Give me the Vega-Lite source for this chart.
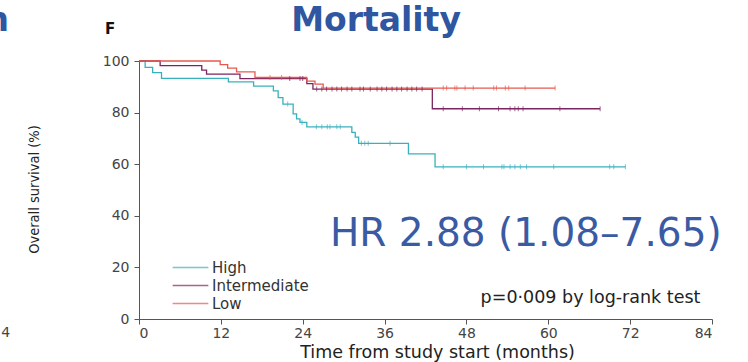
{
  "$schema": "https://vega.github.io/schema/vega-lite/v6.json",
  "width": 573,
  "height": 258,
  "autosize": {"type": "none"},
  "padding": {"left": 139, "top": 61, "right": 36, "bottom": 43},
  "background": "white",
  "datasets": {
    "curves": [
      {"group": "High", "t": 0, "s": 100},
      {"group": "High", "t": 0.9, "s": 97.5},
      {"group": "High", "t": 2.0, "s": 95.5},
      {"group": "High", "t": 3.3, "s": 93.3},
      {"group": "High", "t": 13.1, "s": 91.9},
      {"group": "High", "t": 16.8, "s": 90.3},
      {"group": "High", "t": 19.7, "s": 88.4},
      {"group": "High", "t": 20.4, "s": 85.8},
      {"group": "High", "t": 21.1, "s": 83.3},
      {"group": "High", "t": 22.6, "s": 79.5},
      {"group": "High", "t": 23.1, "s": 77.6},
      {"group": "High", "t": 23.6, "s": 76.2},
      {"group": "High", "t": 24.6, "s": 74.5},
      {"group": "High", "t": 31.2, "s": 72.3},
      {"group": "High", "t": 31.7, "s": 70.5},
      {"group": "High", "t": 32.2, "s": 68.1},
      {"group": "High", "t": 39.5, "s": 64.0},
      {"group": "High", "t": 43.4, "s": 59.0},
      {"group": "High", "t": 71.3, "s": 59.0},
      {"group": "Intermediate", "t": 0, "s": 100},
      {"group": "Intermediate", "t": 3.1, "s": 98.2},
      {"group": "Intermediate", "t": 9.2, "s": 96.5},
      {"group": "Intermediate", "t": 9.9, "s": 94.9},
      {"group": "Intermediate", "t": 14.8, "s": 93.2},
      {"group": "Intermediate", "t": 24.6, "s": 91.2},
      {"group": "Intermediate", "t": 25.5, "s": 89.1},
      {"group": "Intermediate", "t": 43.0, "s": 81.5},
      {"group": "Intermediate", "t": 67.6, "s": 81.5},
      {"group": "Low", "t": 0, "s": 100},
      {"group": "Low", "t": 11.9, "s": 98.6},
      {"group": "Low", "t": 13.0, "s": 97.2},
      {"group": "Low", "t": 14.3, "s": 95.8},
      {"group": "Low", "t": 17.0, "s": 93.6},
      {"group": "Low", "t": 24.6, "s": 92.2},
      {"group": "Low", "t": 25.8, "s": 91.0},
      {"group": "Low", "t": 27.0, "s": 89.5},
      {"group": "Low", "t": 61.0, "s": 89.5}
    ],
    "censored": [
      {"group": "High", "t": 21.8, "s": 83.3},
      {"group": "High", "t": 23.9, "s": 76.2},
      {"group": "High", "t": 26.0, "s": 74.5},
      {"group": "High", "t": 26.8, "s": 74.5},
      {"group": "High", "t": 27.6, "s": 74.5},
      {"group": "High", "t": 28.0, "s": 74.5},
      {"group": "High", "t": 29.0, "s": 74.5},
      {"group": "High", "t": 29.5, "s": 74.5},
      {"group": "High", "t": 32.6, "s": 68.1},
      {"group": "High", "t": 33.1, "s": 68.1},
      {"group": "High", "t": 33.6, "s": 68.1},
      {"group": "High", "t": 36.8, "s": 68.1},
      {"group": "High", "t": 44.6, "s": 59.0},
      {"group": "High", "t": 48.0, "s": 59.0},
      {"group": "High", "t": 50.5, "s": 59.0},
      {"group": "High", "t": 53.2, "s": 59.0},
      {"group": "High", "t": 53.5, "s": 59.0},
      {"group": "High", "t": 54.4, "s": 59.0},
      {"group": "High", "t": 55.1, "s": 59.0},
      {"group": "High", "t": 55.9, "s": 59.0},
      {"group": "High", "t": 56.8, "s": 59.0},
      {"group": "High", "t": 60.8, "s": 59.0},
      {"group": "High", "t": 69.0, "s": 59.0},
      {"group": "High", "t": 69.6, "s": 59.0},
      {"group": "High", "t": 71.3, "s": 59.0},
      {"group": "Intermediate", "t": 22.1, "s": 93.2},
      {"group": "Intermediate", "t": 23.6, "s": 93.2},
      {"group": "Intermediate", "t": 24.0, "s": 93.2},
      {"group": "Intermediate", "t": 26.05, "s": 89.1},
      {"group": "Intermediate", "t": 26.8, "s": 89.1},
      {"group": "Intermediate", "t": 27.5, "s": 89.1},
      {"group": "Intermediate", "t": 28.3, "s": 89.1},
      {"group": "Intermediate", "t": 29.0, "s": 89.1},
      {"group": "Intermediate", "t": 29.7, "s": 89.1},
      {"group": "Intermediate", "t": 30.5, "s": 89.1},
      {"group": "Intermediate", "t": 31.2, "s": 89.1},
      {"group": "Intermediate", "t": 32.4, "s": 89.1},
      {"group": "Intermediate", "t": 32.9, "s": 89.1},
      {"group": "Intermediate", "t": 33.9, "s": 89.1},
      {"group": "Intermediate", "t": 34.9, "s": 89.1},
      {"group": "Intermediate", "t": 35.6, "s": 89.1},
      {"group": "Intermediate", "t": 36.3, "s": 89.1},
      {"group": "Intermediate", "t": 37.1, "s": 89.1},
      {"group": "Intermediate", "t": 37.8, "s": 89.1},
      {"group": "Intermediate", "t": 38.5, "s": 89.1},
      {"group": "Intermediate", "t": 39.3, "s": 89.1},
      {"group": "Intermediate", "t": 40.0, "s": 89.1},
      {"group": "Intermediate", "t": 40.7, "s": 89.1},
      {"group": "Intermediate", "t": 41.5, "s": 89.1},
      {"group": "Intermediate", "t": 44.6, "s": 81.5},
      {"group": "Intermediate", "t": 47.4, "s": 81.5},
      {"group": "Intermediate", "t": 49.9, "s": 81.5},
      {"group": "Intermediate", "t": 52.7, "s": 81.5},
      {"group": "Intermediate", "t": 54.4, "s": 81.5},
      {"group": "Intermediate", "t": 55.1, "s": 81.5},
      {"group": "Intermediate", "t": 55.6, "s": 81.5},
      {"group": "Intermediate", "t": 56.3, "s": 81.5},
      {"group": "Intermediate", "t": 61.7, "s": 81.5},
      {"group": "Intermediate", "t": 67.6, "s": 81.5},
      {"group": "Low", "t": 19.2, "s": 93.6},
      {"group": "Low", "t": 20.9, "s": 93.6},
      {"group": "Low", "t": 44.6, "s": 89.5},
      {"group": "Low", "t": 45.1, "s": 89.5},
      {"group": "Low", "t": 46.3, "s": 89.5},
      {"group": "Low", "t": 46.6, "s": 89.5},
      {"group": "Low", "t": 47.8, "s": 89.5},
      {"group": "Low", "t": 49.0, "s": 89.5},
      {"group": "Low", "t": 52.0, "s": 89.5},
      {"group": "Low", "t": 52.4, "s": 89.5},
      {"group": "Low", "t": 53.7, "s": 89.5},
      {"group": "Low", "t": 54.2, "s": 89.5},
      {"group": "Low", "t": 56.6, "s": 89.5},
      {"group": "Low", "t": 61.0, "s": 89.5}
    ],
    "heading": [{"label": "Mortality"}],
    "notes": [{"label": "HR 2.88 (1.08–7.65)"}],
    "pvalue": [{"label": "p=0·009 by log-rank test"}],
    "panel": [{"label": "F"}],
    "leftTitle": [{"label": "n"}],
    "leftTick": [{"label": "4"}]
  },
  "layer": [
    {
      "data": {"name": "curves"},
      "mark": {"type": "line", "interpolate": "step-after", "strokeWidth": 1.3},
      "encoding": {
        "x": {
          "field": "t",
          "type": "quantitative",
          "scale": {"domain": [0, 84], "nice": false, "zero": false},
          "axis": {
            "title": "Time from study start (months)",
            "values": [0, 12, 24, 36, 48, 60, 72, 84],
            "tickSize": 5,
            "labelPadding": 2,
            "labelFont": "DejaVu Sans",
            "labelFontSize": 14,
            "titleFont": "DejaVu Sans",
            "titleFontSize": 17.5,
            "titleFontWeight": "normal",
            "titleX": 298,
            "titleY": 33,
            "titleAlign": "center",
            "titleBaseline": "middle"
          }
        },
        "y": {
          "field": "s",
          "type": "quantitative",
          "scale": {"domain": [0, 100], "nice": false},
          "axis": {
            "title": "Overall survival (%)",
            "values": [0, 20, 40, 60, 80, 100],
            "tickSize": 5,
            "labelPadding": 5,
            "labelFont": "DejaVu Sans",
            "labelFontSize": 14,
            "titleFont": "DejaVu Sans Condensed",
            "titleFontSize": 14.5,
            "titleFontWeight": "normal",
            "titleX": -98,
            "titleY": 128,
            "titleAngle": -90,
            "titleAlign": "center",
            "titleBaseline": "bottom"
          }
        },
        "color": {
          "field": "group",
          "type": "nominal",
          "scale": {
            "domain": ["High", "Intermediate", "Low"],
            "range": ["#38B1BE", "#7B2560", "#E65A4E"]
          },
          "legend": {
            "title": null,
            "orient": "none",
            "legendX": 42,
            "legendY": 197,
            "symbolType": "M-2.1,0H2.1",
            "symbolSize": 289,
            "symbolStrokeWidth": 1.5,
            "symbolFillColor": "transparent",
            "labelFont": "DejaVu Sans",
            "labelFontSize": 15,
            "labelColor": "#333",
            "labelOffset": 12,
            "rowPadding": 0
          }
        }
      }
    },
    {
      "data": {"name": "censored"},
      "mark": {"type": "tick", "orient": "vertical", "size": 5, "thickness": 1},
      "encoding": {
        "x": {"field": "t", "type": "quantitative"},
        "y": {"field": "s", "type": "quantitative"},
        "color": {"field": "group", "type": "nominal"}
      }
    },
    {
      "data": {"name": "heading"},
      "mark": {"type": "text", "align": "center", "baseline": "alphabetic", "font": "DejaVu Sans", "fontSize": 33, "fontWeight": "bold", "fill": "#2F56A0"},
      "encoding": {
        "x": {"datum": 34.75, "type": "quantitative"},
        "y": {"datum": 111.6, "type": "quantitative"},
        "text": {"field": "label", "type": "nominal"}
      }
    },
    {
      "data": {"name": "notes"},
      "mark": {"type": "text", "align": "left", "baseline": "alphabetic", "font": "DejaVu Sans", "fontSize": 39, "fill": "#3A5BA3"},
      "encoding": {
        "x": {"datum": 28.0, "type": "quantitative"},
        "y": {"datum": 28.3, "type": "quantitative"},
        "text": {"field": "label", "type": "nominal"}
      }
    },
    {
      "data": {"name": "pvalue"},
      "mark": {"type": "text", "align": "right", "baseline": "alphabetic", "font": "DejaVu Sans", "fontSize": 17.5, "fill": "#222"},
      "encoding": {
        "x": {"datum": 82.3, "type": "quantitative"},
        "y": {"datum": 6.2, "type": "quantitative"},
        "text": {"field": "label", "type": "nominal"}
      }
    },
    {
      "data": {"name": "panel"},
      "mark": {"type": "text", "align": "center", "baseline": "middle", "font": "DejaVu Sans", "fontSize": 15, "fontWeight": "bold", "fill": "#111"},
      "encoding": {
        "x": {"datum": -4.25, "type": "quantitative"},
        "y": {"datum": 112.4, "type": "quantitative"},
        "text": {"field": "label", "type": "nominal"}
      }
    },
    {
      "data": {"name": "leftTitle"},
      "mark": {"type": "text", "align": "right", "baseline": "alphabetic", "font": "DejaVu Sans", "fontSize": 33, "fontWeight": "bold", "fill": "#2F56A0"},
      "encoding": {
        "x": {"datum": -19.06, "type": "quantitative"},
        "y": {"datum": 111.6, "type": "quantitative"},
        "text": {"field": "label", "type": "nominal"}
      }
    },
    {
      "data": {"name": "leftTick"},
      "mark": {"type": "text", "align": "right", "baseline": "middle", "font": "DejaVu Sans", "fontSize": 14, "fill": "#444"},
      "encoding": {
        "x": {"datum": -18.9, "type": "quantitative"},
        "y": {"datum": -5.4, "type": "quantitative"},
        "text": {"field": "label", "type": "nominal"}
      }
    }
  ],
  "config": {
    "view": {"stroke": null},
    "axis": {
      "grid": false,
      "domainColor": "#555",
      "tickColor": "#555",
      "labelColor": "#444",
      "titleColor": "#222"
    }
  }
}
